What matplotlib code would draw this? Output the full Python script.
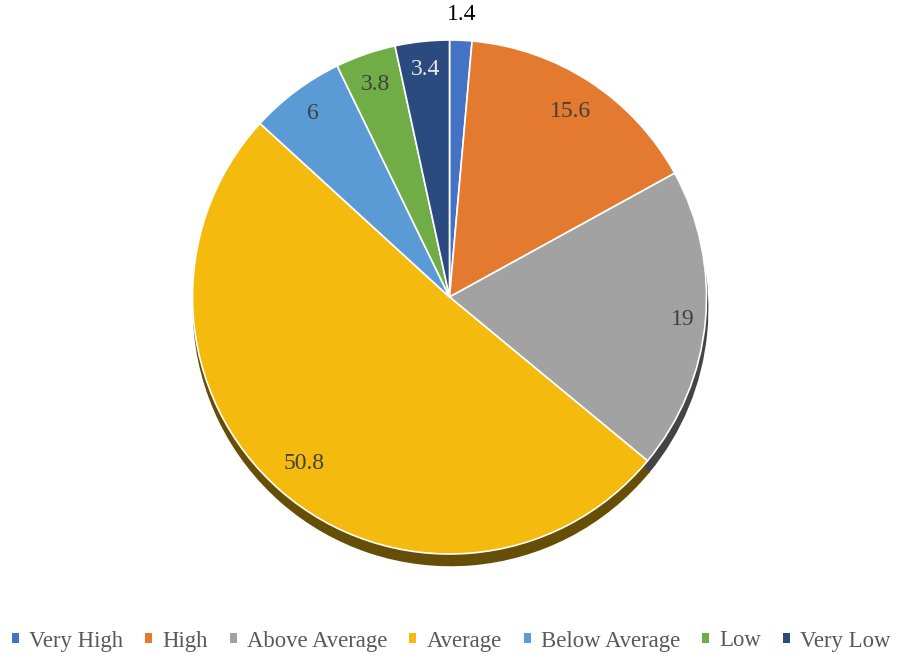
import numpy as np
import matplotlib.pyplot as plt
from matplotlib.patches import Patch

categories = ['Very High', 'High', 'Above Average', 'Average', 'Below Average', 'Low', 'Very Low']
values = [1.4, 15.6, 19, 50.8, 6, 3.8, 3.4]
value_labels = ['1.4', '15.6', '19', '50.8', '6', '3.8', '3.4']
colors = ['#4472C4', '#E47A30', '#A2A2A2', '#F5BA0E', '#5B9BD5', '#70AD47', '#2B4A7F']
label_colors = ['black', '#404040', '#404040', '#404040', '#404040', '#404040', '#E6E6E6']
label_dist = [1.10, 0.86, 0.91, 0.86, 0.89, 0.875, 0.89]

plt.rcParams['font.family'] = ['Liberation Serif', 'DejaVu Serif']

W, H = 897, 655
cx, cy, r = 449.5, 297, 257
fig = plt.figure(figsize=(W / 100, H / 100), dpi=100)
ax = fig.add_axes([(cx - r) / W, (H - cy - r) / H, 2 * r / W, 2 * r / H])

wedges, _ = ax.pie(values, colors=colors, startangle=90, counterclock=False,
                   wedgeprops=dict(edgecolor='white', linewidth=1.2),
                   shadow=dict(ox=0.003, oy=-0.032, shade=0.58, alpha=1))
ax.set_xlim(-1, 1)
ax.set_ylim(-1, 1)
ax.set_aspect('equal')
for p in ax.patches:
    p.set_clip_on(False)

# value labels
for w, lab, col, d in zip(wedges, value_labels, label_colors, label_dist):
    mid = np.deg2rad((w.theta1 + w.theta2) / 2)
    ax.text(d * np.cos(mid), d * np.sin(mid), lab, ha='center', va='center',
            fontsize=17, color=col)

handles = [Patch(facecolor=c, edgecolor='none') for c in colors]
fig.legend(handles, categories, loc='center', bbox_to_anchor=(0.503, (H - 641) / H),
           ncol=7, frameon=False, fontsize=16.4, labelcolor='#595959',
           handlelength=0.3, handleheight=0.3, handletextpad=0.45,
           columnspacing=0.97, borderpad=0.2)

plt.savefig('out.png', dpi=100)
